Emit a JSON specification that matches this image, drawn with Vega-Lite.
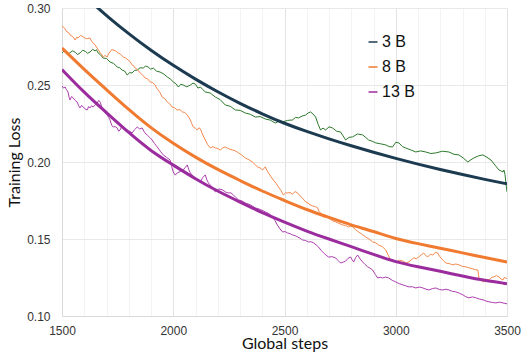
{
  "$schema": "https://vega.github.io/schema/vega-lite/v6.json",
  "autosize": "none",
  "width": 445,
  "height": 308,
  "padding": {"left": 62, "top": 8, "right": 16, "bottom": 39},
  "background": "white",
  "config": {"view": {"stroke": null}},
  "datasets": {
    "smooth": [
      {"series": "3 B", "step": 1650, "loss": 0.3015}, {"series": "3 B", "step": 1700, "loss": 0.2950}, {"series": "3 B", "step": 1800, "loss": 0.2832}, {"series": "3 B", "step": 1900, "loss": 0.2724}, {"series": "3 B", "step": 2000, "loss": 0.2626}, {"series": "3 B", "step": 2100, "loss": 0.2537}, {"series": "3 B", "step": 2200, "loss": 0.2455}, {"series": "3 B", "step": 2300, "loss": 0.2380}, {"series": "3 B", "step": 2400, "loss": 0.2312}, {"series": "3 B", "step": 2500, "loss": 0.2250}, {"series": "3 B", "step": 2600, "loss": 0.2198}, {"series": "3 B", "step": 2700, "loss": 0.2150}, {"series": "3 B", "step": 2800, "loss": 0.2105}, {"series": "3 B", "step": 2900, "loss": 0.2063}, {"series": "3 B", "step": 3000, "loss": 0.2023}, {"series": "3 B", "step": 3100, "loss": 0.1986}, {"series": "3 B", "step": 3200, "loss": 0.1951}, {"series": "3 B", "step": 3300, "loss": 0.1918}, {"series": "3 B", "step": 3400, "loss": 0.1887}, {"series": "3 B", "step": 3500, "loss": 0.1858},
      {"series": "8 B", "step": 1500, "loss": 0.274}, {"series": "8 B", "step": 1600, "loss": 0.260}, {"series": "8 B", "step": 1700, "loss": 0.247}, {"series": "8 B", "step": 1800, "loss": 0.234}, {"series": "8 B", "step": 1900, "loss": 0.222}, {"series": "8 B", "step": 2000, "loss": 0.212}, {"series": "8 B", "step": 2100, "loss": 0.203}, {"series": "8 B", "step": 2200, "loss": 0.195}, {"series": "8 B", "step": 2300, "loss": 0.188}, {"series": "8 B", "step": 2400, "loss": 0.181}, {"series": "8 B", "step": 2500, "loss": 0.175}, {"series": "8 B", "step": 2600, "loss": 0.169}, {"series": "8 B", "step": 2700, "loss": 0.164}, {"series": "8 B", "step": 2800, "loss": 0.159}, {"series": "8 B", "step": 2900, "loss": 0.155}, {"series": "8 B", "step": 3000, "loss": 0.150}, {"series": "8 B", "step": 3100, "loss": 0.147}, {"series": "8 B", "step": 3200, "loss": 0.144}, {"series": "8 B", "step": 3300, "loss": 0.141}, {"series": "8 B", "step": 3400, "loss": 0.138}, {"series": "8 B", "step": 3500, "loss": 0.135},
      {"series": "13 B", "step": 1500, "loss": 0.260}, {"series": "13 B", "step": 1600, "loss": 0.245}, {"series": "13 B", "step": 1700, "loss": 0.232}, {"series": "13 B", "step": 1800, "loss": 0.219}, {"series": "13 B", "step": 1900, "loss": 0.207}, {"series": "13 B", "step": 2000, "loss": 0.198}, {"series": "13 B", "step": 2100, "loss": 0.189}, {"series": "13 B", "step": 2200, "loss": 0.181}, {"series": "13 B", "step": 2300, "loss": 0.174}, {"series": "13 B", "step": 2400, "loss": 0.167}, {"series": "13 B", "step": 2500, "loss": 0.161}, {"series": "13 B", "step": 2600, "loss": 0.155}, {"series": "13 B", "step": 2700, "loss": 0.150}, {"series": "13 B", "step": 2800, "loss": 0.145}, {"series": "13 B", "step": 2900, "loss": 0.140}, {"series": "13 B", "step": 3000, "loss": 0.135}, {"series": "13 B", "step": 3100, "loss": 0.132}, {"series": "13 B", "step": 3200, "loss": 0.129}, {"series": "13 B", "step": 3300, "loss": 0.126}, {"series": "13 B", "step": 3400, "loss": 0.123}, {"series": "13 B", "step": 3500, "loss": 0.121}
    ],
    "raw": [
      {"series": "3 B raw", "step": 1500, "loss": 0.2708}, {"series": "3 B raw", "step": 1510, "loss": 0.2722}, {"series": "3 B raw", "step": 1520, "loss": 0.2712}, {"series": "3 B raw", "step": 1528, "loss": 0.2700}, {"series": "3 B raw", "step": 1536, "loss": 0.2710}, {"series": "3 B raw", "step": 1548, "loss": 0.2722}, {"series": "3 B raw", "step": 1560, "loss": 0.2712}, {"series": "3 B raw", "step": 1570, "loss": 0.2698}, {"series": "3 B raw", "step": 1581, "loss": 0.2708}, {"series": "3 B raw", "step": 1593, "loss": 0.2726}, {"series": "3 B raw", "step": 1605, "loss": 0.2718}, {"series": "3 B raw", "step": 1615, "loss": 0.2706}, {"series": "3 B raw", "step": 1626, "loss": 0.2714}, {"series": "3 B raw", "step": 1638, "loss": 0.2732}, {"series": "3 B raw", "step": 1649, "loss": 0.2721}, {"series": "3 B raw", "step": 1655, "loss": 0.2730}, {"series": "3 B raw", "step": 1662, "loss": 0.2708}, {"series": "3 B raw", "step": 1673, "loss": 0.2696}, {"series": "3 B raw", "step": 1685, "loss": 0.2675}, {"series": "3 B raw", "step": 1700, "loss": 0.2672}, {"series": "3 B raw", "step": 1716, "loss": 0.2649}, {"series": "3 B raw", "step": 1732, "loss": 0.2640}, {"series": "3 B raw", "step": 1748, "loss": 0.2617}, {"series": "3 B raw", "step": 1759, "loss": 0.2612}, {"series": "3 B raw", "step": 1770, "loss": 0.2597}, {"series": "3 B raw", "step": 1782, "loss": 0.2590}, {"series": "3 B raw", "step": 1793, "loss": 0.2565}, {"series": "3 B raw", "step": 1804, "loss": 0.2580}, {"series": "3 B raw", "step": 1815, "loss": 0.2578}, {"series": "3 B raw", "step": 1826, "loss": 0.2595}, {"series": "3 B raw", "step": 1838, "loss": 0.2597}, {"series": "3 B raw", "step": 1851, "loss": 0.2612}, {"series": "3 B raw", "step": 1865, "loss": 0.2610}, {"series": "3 B raw", "step": 1876, "loss": 0.2623}, {"series": "3 B raw", "step": 1887, "loss": 0.2617}, {"series": "3 B raw", "step": 1898, "loss": 0.2603}, {"series": "3 B raw", "step": 1910, "loss": 0.2610}, {"series": "3 B raw", "step": 1925, "loss": 0.2590}, {"series": "3 B raw", "step": 1941, "loss": 0.2584}, {"series": "3 B raw", "step": 1957, "loss": 0.2572}, {"series": "3 B raw", "step": 1973, "loss": 0.2552}, {"series": "3 B raw", "step": 1986, "loss": 0.2540}, {"series": "3 B raw", "step": 2000, "loss": 0.2520}, {"series": "3 B raw", "step": 2012, "loss": 0.2508}, {"series": "3 B raw", "step": 2023, "loss": 0.2487}, {"series": "3 B raw", "step": 2034, "loss": 0.2505}, {"series": "3 B raw", "step": 2045, "loss": 0.2500}, {"series": "3 B raw", "step": 2061, "loss": 0.2488}, {"series": "3 B raw", "step": 2077, "loss": 0.2500}, {"series": "3 B raw", "step": 2089, "loss": 0.2512}, {"series": "3 B raw", "step": 2100, "loss": 0.2505}, {"series": "3 B raw", "step": 2111, "loss": 0.2480}, {"series": "3 B raw", "step": 2122, "loss": 0.2487}, {"series": "3 B raw", "step": 2133, "loss": 0.2470}, {"series": "3 B raw", "step": 2144, "loss": 0.2455}, {"series": "3 B raw", "step": 2166, "loss": 0.2448}, {"series": "3 B raw", "step": 2189, "loss": 0.2422}, {"series": "3 B raw", "step": 2211, "loss": 0.2405}, {"series": "3 B raw", "step": 2234, "loss": 0.2370}, {"series": "3 B raw", "step": 2256, "loss": 0.2362}, {"series": "3 B raw", "step": 2279, "loss": 0.2338}, {"series": "3 B raw", "step": 2301, "loss": 0.2335}, {"series": "3 B raw", "step": 2324, "loss": 0.2318}, {"series": "3 B raw", "step": 2346, "loss": 0.2310}, {"series": "3 B raw", "step": 2369, "loss": 0.2292}, {"series": "3 B raw", "step": 2391, "loss": 0.2295}, {"series": "3 B raw", "step": 2414, "loss": 0.2279}, {"series": "3 B raw", "step": 2436, "loss": 0.2272}, {"series": "3 B raw", "step": 2459, "loss": 0.2253}, {"series": "3 B raw", "step": 2475, "loss": 0.2265}, {"series": "3 B raw", "step": 2491, "loss": 0.2260}, {"series": "3 B raw", "step": 2513, "loss": 0.2270}, {"series": "3 B raw", "step": 2536, "loss": 0.2273}, {"series": "3 B raw", "step": 2550, "loss": 0.2290}, {"series": "3 B raw", "step": 2563, "loss": 0.2286}, {"series": "3 B raw", "step": 2579, "loss": 0.2298}, {"series": "3 B raw", "step": 2595, "loss": 0.2305}, {"series": "3 B raw", "step": 2606, "loss": 0.2318}, {"series": "3 B raw", "step": 2617, "loss": 0.2325}, {"series": "3 B raw", "step": 2628, "loss": 0.2312}, {"series": "3 B raw", "step": 2640, "loss": 0.2292}, {"series": "3 B raw", "step": 2651, "loss": 0.2245}, {"series": "3 B raw", "step": 2662, "loss": 0.2208}, {"series": "3 B raw", "step": 2673, "loss": 0.2220}, {"series": "3 B raw", "step": 2685, "loss": 0.2208}, {"series": "3 B raw", "step": 2700, "loss": 0.2228}, {"series": "3 B raw", "step": 2716, "loss": 0.2221}, {"series": "3 B raw", "step": 2734, "loss": 0.2200}, {"series": "3 B raw", "step": 2752, "loss": 0.2195}, {"series": "3 B raw", "step": 2763, "loss": 0.2170}, {"series": "3 B raw", "step": 2775, "loss": 0.2143}, {"series": "3 B raw", "step": 2790, "loss": 0.2160}, {"series": "3 B raw", "step": 2806, "loss": 0.2163}, {"series": "3 B raw", "step": 2828, "loss": 0.2182}, {"series": "3 B raw", "step": 2851, "loss": 0.2176}, {"series": "3 B raw", "step": 2865, "loss": 0.2160}, {"series": "3 B raw", "step": 2878, "loss": 0.2143}, {"series": "3 B raw", "step": 2894, "loss": 0.2135}, {"series": "3 B raw", "step": 2910, "loss": 0.2124}, {"series": "3 B raw", "step": 2932, "loss": 0.2118}, {"series": "3 B raw", "step": 2955, "loss": 0.2111}, {"series": "3 B raw", "step": 2970, "loss": 0.2100}, {"series": "3 B raw", "step": 2986, "loss": 0.2098}, {"series": "3 B raw", "step": 3000, "loss": 0.2128}, {"series": "3 B raw", "step": 3014, "loss": 0.2124}, {"series": "3 B raw", "step": 3030, "loss": 0.2100}, {"series": "3 B raw", "step": 3045, "loss": 0.2091}, {"series": "3 B raw", "step": 3068, "loss": 0.2078}, {"series": "3 B raw", "step": 3090, "loss": 0.2065}, {"series": "3 B raw", "step": 3112, "loss": 0.2072}, {"series": "3 B raw", "step": 3135, "loss": 0.2065}, {"series": "3 B raw", "step": 3158, "loss": 0.2055}, {"series": "3 B raw", "step": 3180, "loss": 0.2059}, {"series": "3 B raw", "step": 3210, "loss": 0.2070}, {"series": "3 B raw", "step": 3239, "loss": 0.2065}, {"series": "3 B raw", "step": 3262, "loss": 0.2050}, {"series": "3 B raw", "step": 3284, "loss": 0.2046}, {"series": "3 B raw", "step": 3304, "loss": 0.2025}, {"series": "3 B raw", "step": 3324, "loss": 0.2000}, {"series": "3 B raw", "step": 3338, "loss": 0.2015}, {"series": "3 B raw", "step": 3351, "loss": 0.2026}, {"series": "3 B raw", "step": 3372, "loss": 0.2040}, {"series": "3 B raw", "step": 3392, "loss": 0.2046}, {"series": "3 B raw", "step": 3410, "loss": 0.2030}, {"series": "3 B raw", "step": 3428, "loss": 0.2013}, {"series": "3 B raw", "step": 3446, "loss": 0.1980}, {"series": "3 B raw", "step": 3464, "loss": 0.1948}, {"series": "3 B raw", "step": 3473, "loss": 0.1942}, {"series": "3 B raw", "step": 3482, "loss": 0.1935}, {"series": "3 B raw", "step": 3486, "loss": 0.1948}, {"series": "3 B raw", "step": 3491, "loss": 0.1920}, {"series": "3 B raw", "step": 3495, "loss": 0.1864}, {"series": "3 B raw", "step": 3500, "loss": 0.1806},
      {"series": "8 B raw", "step": 1500, "loss": 0.2883}, {"series": "8 B raw", "step": 1511, "loss": 0.2870}, {"series": "8 B raw", "step": 1523, "loss": 0.2844}, {"series": "8 B raw", "step": 1530, "loss": 0.2840}, {"series": "8 B raw", "step": 1536, "loss": 0.2825}, {"series": "8 B raw", "step": 1548, "loss": 0.2815}, {"series": "8 B raw", "step": 1559, "loss": 0.2792}, {"series": "8 B raw", "step": 1566, "loss": 0.2810}, {"series": "8 B raw", "step": 1572, "loss": 0.2805}, {"series": "8 B raw", "step": 1584, "loss": 0.2822}, {"series": "8 B raw", "step": 1595, "loss": 0.2812}, {"series": "8 B raw", "step": 1610, "loss": 0.2800}, {"series": "8 B raw", "step": 1626, "loss": 0.2805}, {"series": "8 B raw", "step": 1633, "loss": 0.2785}, {"series": "8 B raw", "step": 1640, "loss": 0.2773}, {"series": "8 B raw", "step": 1649, "loss": 0.2760}, {"series": "8 B raw", "step": 1658, "loss": 0.2740}, {"series": "8 B raw", "step": 1665, "loss": 0.2725}, {"series": "8 B raw", "step": 1671, "loss": 0.2708}, {"series": "8 B raw", "step": 1678, "loss": 0.2700}, {"series": "8 B raw", "step": 1685, "loss": 0.2682}, {"series": "8 B raw", "step": 1694, "loss": 0.2692}, {"series": "8 B raw", "step": 1703, "loss": 0.2682}, {"series": "8 B raw", "step": 1710, "loss": 0.2705}, {"series": "8 B raw", "step": 1716, "loss": 0.2714}, {"series": "8 B raw", "step": 1723, "loss": 0.2730}, {"series": "8 B raw", "step": 1730, "loss": 0.2727}, {"series": "8 B raw", "step": 1741, "loss": 0.2722}, {"series": "8 B raw", "step": 1752, "loss": 0.2708}, {"series": "8 B raw", "step": 1763, "loss": 0.2700}, {"series": "8 B raw", "step": 1775, "loss": 0.2682}, {"series": "8 B raw", "step": 1786, "loss": 0.2676}, {"series": "8 B raw", "step": 1797, "loss": 0.2662}, {"series": "8 B raw", "step": 1806, "loss": 0.2652}, {"series": "8 B raw", "step": 1815, "loss": 0.2630}, {"series": "8 B raw", "step": 1822, "loss": 0.2625}, {"series": "8 B raw", "step": 1829, "loss": 0.2610}, {"series": "8 B raw", "step": 1840, "loss": 0.2600}, {"series": "8 B raw", "step": 1851, "loss": 0.2578}, {"series": "8 B raw", "step": 1862, "loss": 0.2565}, {"series": "8 B raw", "step": 1874, "loss": 0.2545}, {"series": "8 B raw", "step": 1885, "loss": 0.2540}, {"series": "8 B raw", "step": 1896, "loss": 0.2520}, {"series": "8 B raw", "step": 1908, "loss": 0.2515}, {"series": "8 B raw", "step": 1919, "loss": 0.2500}, {"series": "8 B raw", "step": 1925, "loss": 0.2480}, {"series": "8 B raw", "step": 1932, "loss": 0.2468}, {"series": "8 B raw", "step": 1941, "loss": 0.2450}, {"series": "8 B raw", "step": 1950, "loss": 0.2422}, {"series": "8 B raw", "step": 1962, "loss": 0.2412}, {"series": "8 B raw", "step": 1973, "loss": 0.2390}, {"series": "8 B raw", "step": 1984, "loss": 0.2378}, {"series": "8 B raw", "step": 1995, "loss": 0.2357}, {"series": "8 B raw", "step": 2006, "loss": 0.2352}, {"series": "8 B raw", "step": 2018, "loss": 0.2338}, {"series": "8 B raw", "step": 2030, "loss": 0.2340}, {"series": "8 B raw", "step": 2041, "loss": 0.2325}, {"series": "8 B raw", "step": 2052, "loss": 0.2322}, {"series": "8 B raw", "step": 2063, "loss": 0.2305}, {"series": "8 B raw", "step": 2070, "loss": 0.2290}, {"series": "8 B raw", "step": 2077, "loss": 0.2273}, {"series": "8 B raw", "step": 2083, "loss": 0.2250}, {"series": "8 B raw", "step": 2090, "loss": 0.2227}, {"series": "8 B raw", "step": 2099, "loss": 0.2220}, {"series": "8 B raw", "step": 2108, "loss": 0.2208}, {"series": "8 B raw", "step": 2115, "loss": 0.2222}, {"series": "8 B raw", "step": 2122, "loss": 0.2215}, {"series": "8 B raw", "step": 2133, "loss": 0.2175}, {"series": "8 B raw", "step": 2144, "loss": 0.2143}, {"series": "8 B raw", "step": 2155, "loss": 0.2112}, {"series": "8 B raw", "step": 2167, "loss": 0.2091}, {"series": "8 B raw", "step": 2178, "loss": 0.2100}, {"series": "8 B raw", "step": 2189, "loss": 0.2091}, {"series": "8 B raw", "step": 2200, "loss": 0.2088}, {"series": "8 B raw", "step": 2212, "loss": 0.2078}, {"series": "8 B raw", "step": 2223, "loss": 0.2092}, {"series": "8 B raw", "step": 2234, "loss": 0.2098}, {"series": "8 B raw", "step": 2250, "loss": 0.2085}, {"series": "8 B raw", "step": 2266, "loss": 0.2078}, {"series": "8 B raw", "step": 2280, "loss": 0.2072}, {"series": "8 B raw", "step": 2293, "loss": 0.2059}, {"series": "8 B raw", "step": 2308, "loss": 0.2045}, {"series": "8 B raw", "step": 2324, "loss": 0.2026}, {"series": "8 B raw", "step": 2340, "loss": 0.2015}, {"series": "8 B raw", "step": 2356, "loss": 0.2000}, {"series": "8 B raw", "step": 2367, "loss": 0.1985}, {"series": "8 B raw", "step": 2378, "loss": 0.1968}, {"series": "8 B raw", "step": 2390, "loss": 0.1962}, {"series": "8 B raw", "step": 2401, "loss": 0.1948}, {"series": "8 B raw", "step": 2408, "loss": 0.1960}, {"series": "8 B raw", "step": 2414, "loss": 0.1968}, {"series": "8 B raw", "step": 2421, "loss": 0.1945}, {"series": "8 B raw", "step": 2428, "loss": 0.1929}, {"series": "8 B raw", "step": 2439, "loss": 0.1905}, {"series": "8 B raw", "step": 2450, "loss": 0.1883}, {"series": "8 B raw", "step": 2462, "loss": 0.1862}, {"series": "8 B raw", "step": 2473, "loss": 0.1838}, {"series": "8 B raw", "step": 2484, "loss": 0.1815}, {"series": "8 B raw", "step": 2495, "loss": 0.1786}, {"series": "8 B raw", "step": 2505, "loss": 0.1800}, {"series": "8 B raw", "step": 2514, "loss": 0.1799}, {"series": "8 B raw", "step": 2525, "loss": 0.1802}, {"series": "8 B raw", "step": 2536, "loss": 0.1792}, {"series": "8 B raw", "step": 2548, "loss": 0.1808}, {"series": "8 B raw", "step": 2559, "loss": 0.1799}, {"series": "8 B raw", "step": 2570, "loss": 0.1780}, {"series": "8 B raw", "step": 2581, "loss": 0.1766}, {"series": "8 B raw", "step": 2592, "loss": 0.1745}, {"series": "8 B raw", "step": 2604, "loss": 0.1734}, {"series": "8 B raw", "step": 2615, "loss": 0.1722}, {"series": "8 B raw", "step": 2626, "loss": 0.1715}, {"series": "8 B raw", "step": 2638, "loss": 0.1710}, {"series": "8 B raw", "step": 2649, "loss": 0.1702}, {"series": "8 B raw", "step": 2655, "loss": 0.1680}, {"series": "8 B raw", "step": 2662, "loss": 0.1669}, {"series": "8 B raw", "step": 2669, "loss": 0.1650}, {"series": "8 B raw", "step": 2676, "loss": 0.1643}, {"series": "8 B raw", "step": 2687, "loss": 0.1645}, {"series": "8 B raw", "step": 2698, "loss": 0.1637}, {"series": "8 B raw", "step": 2714, "loss": 0.1620}, {"series": "8 B raw", "step": 2730, "loss": 0.1611}, {"series": "8 B raw", "step": 2745, "loss": 0.1602}, {"series": "8 B raw", "step": 2761, "loss": 0.1591}, {"series": "8 B raw", "step": 2775, "loss": 0.1588}, {"series": "8 B raw", "step": 2788, "loss": 0.1578}, {"series": "8 B raw", "step": 2797, "loss": 0.1583}, {"series": "8 B raw", "step": 2806, "loss": 0.1578}, {"series": "8 B raw", "step": 2820, "loss": 0.1560}, {"series": "8 B raw", "step": 2833, "loss": 0.1546}, {"series": "8 B raw", "step": 2849, "loss": 0.1530}, {"series": "8 B raw", "step": 2865, "loss": 0.1513}, {"series": "8 B raw", "step": 2880, "loss": 0.1500}, {"series": "8 B raw", "step": 2896, "loss": 0.1481}, {"series": "8 B raw", "step": 2910, "loss": 0.1475}, {"series": "8 B raw", "step": 2923, "loss": 0.1461}, {"series": "8 B raw", "step": 2940, "loss": 0.1450}, {"series": "8 B raw", "step": 2955, "loss": 0.1429}, {"series": "8 B raw", "step": 2966, "loss": 0.1395}, {"series": "8 B raw", "step": 2977, "loss": 0.1364}, {"series": "8 B raw", "step": 2988, "loss": 0.1360}, {"series": "8 B raw", "step": 3000, "loss": 0.1351}, {"series": "8 B raw", "step": 3016, "loss": 0.1362}, {"series": "8 B raw", "step": 3032, "loss": 0.1357}, {"series": "8 B raw", "step": 3045, "loss": 0.1345}, {"series": "8 B raw", "step": 3059, "loss": 0.1351}, {"series": "8 B raw", "step": 3070, "loss": 0.1365}, {"series": "8 B raw", "step": 3081, "loss": 0.1377}, {"series": "8 B raw", "step": 3092, "loss": 0.1372}, {"series": "8 B raw", "step": 3104, "loss": 0.1384}, {"series": "8 B raw", "step": 3115, "loss": 0.1398}, {"series": "8 B raw", "step": 3126, "loss": 0.1409}, {"series": "8 B raw", "step": 3135, "loss": 0.1392}, {"series": "8 B raw", "step": 3144, "loss": 0.1384}, {"series": "8 B raw", "step": 3155, "loss": 0.1400}, {"series": "8 B raw", "step": 3167, "loss": 0.1397}, {"series": "8 B raw", "step": 3178, "loss": 0.1412}, {"series": "8 B raw", "step": 3189, "loss": 0.1409}, {"series": "8 B raw", "step": 3196, "loss": 0.1390}, {"series": "8 B raw", "step": 3203, "loss": 0.1377}, {"series": "8 B raw", "step": 3214, "loss": 0.1360}, {"series": "8 B raw", "step": 3225, "loss": 0.1344}, {"series": "8 B raw", "step": 3241, "loss": 0.1340}, {"series": "8 B raw", "step": 3257, "loss": 0.1332}, {"series": "8 B raw", "step": 3270, "loss": 0.1338}, {"series": "8 B raw", "step": 3284, "loss": 0.1332}, {"series": "8 B raw", "step": 3300, "loss": 0.1322}, {"series": "8 B raw", "step": 3315, "loss": 0.1319}, {"series": "8 B raw", "step": 3331, "loss": 0.1312}, {"series": "8 B raw", "step": 3347, "loss": 0.1306}, {"series": "8 B raw", "step": 3358, "loss": 0.1300}, {"series": "8 B raw", "step": 3369, "loss": 0.1299}, {"series": "8 B raw", "step": 3374, "loss": 0.1247}, {"series": "8 B raw", "step": 3385, "loss": 0.1230}, {"series": "8 B raw", "step": 3396, "loss": 0.1221}, {"series": "8 B raw", "step": 3408, "loss": 0.1238}, {"series": "8 B raw", "step": 3419, "loss": 0.1234}, {"series": "8 B raw", "step": 3430, "loss": 0.1250}, {"series": "8 B raw", "step": 3441, "loss": 0.1254}, {"series": "8 B raw", "step": 3452, "loss": 0.1262}, {"series": "8 B raw", "step": 3464, "loss": 0.1254}, {"series": "8 B raw", "step": 3473, "loss": 0.1240}, {"series": "8 B raw", "step": 3482, "loss": 0.1234}, {"series": "8 B raw", "step": 3488, "loss": 0.1250}, {"series": "8 B raw", "step": 3495, "loss": 0.1247}, {"series": "8 B raw", "step": 3500, "loss": 0.1241},
      {"series": "13 B raw", "step": 1500, "loss": 0.2494}, {"series": "13 B raw", "step": 1507, "loss": 0.2480}, {"series": "13 B raw", "step": 1514, "loss": 0.2487}, {"series": "13 B raw", "step": 1520, "loss": 0.2470}, {"series": "13 B raw", "step": 1527, "loss": 0.2455}, {"series": "13 B raw", "step": 1532, "loss": 0.2420}, {"series": "13 B raw", "step": 1536, "loss": 0.2403}, {"series": "13 B raw", "step": 1543, "loss": 0.2425}, {"series": "13 B raw", "step": 1550, "loss": 0.2416}, {"series": "13 B raw", "step": 1559, "loss": 0.2400}, {"series": "13 B raw", "step": 1568, "loss": 0.2390}, {"series": "13 B raw", "step": 1575, "loss": 0.2365}, {"series": "13 B raw", "step": 1581, "loss": 0.2351}, {"series": "13 B raw", "step": 1588, "loss": 0.2368}, {"series": "13 B raw", "step": 1595, "loss": 0.2357}, {"series": "13 B raw", "step": 1604, "loss": 0.2345}, {"series": "13 B raw", "step": 1613, "loss": 0.2338}, {"series": "13 B raw", "step": 1620, "loss": 0.2360}, {"series": "13 B raw", "step": 1626, "loss": 0.2351}, {"series": "13 B raw", "step": 1633, "loss": 0.2365}, {"series": "13 B raw", "step": 1640, "loss": 0.2357}, {"series": "13 B raw", "step": 1649, "loss": 0.2370}, {"series": "13 B raw", "step": 1658, "loss": 0.2383}, {"series": "13 B raw", "step": 1665, "loss": 0.2400}, {"series": "13 B raw", "step": 1671, "loss": 0.2390}, {"series": "13 B raw", "step": 1678, "loss": 0.2360}, {"series": "13 B raw", "step": 1685, "loss": 0.2338}, {"series": "13 B raw", "step": 1694, "loss": 0.2320}, {"series": "13 B raw", "step": 1703, "loss": 0.2305}, {"series": "13 B raw", "step": 1710, "loss": 0.2290}, {"series": "13 B raw", "step": 1716, "loss": 0.2273}, {"series": "13 B raw", "step": 1723, "loss": 0.2240}, {"series": "13 B raw", "step": 1730, "loss": 0.2227}, {"series": "13 B raw", "step": 1739, "loss": 0.2230}, {"series": "13 B raw", "step": 1748, "loss": 0.2221}, {"series": "13 B raw", "step": 1755, "loss": 0.2200}, {"series": "13 B raw", "step": 1761, "loss": 0.2208}, {"series": "13 B raw", "step": 1768, "loss": 0.2230}, {"series": "13 B raw", "step": 1775, "loss": 0.2221}, {"series": "13 B raw", "step": 1784, "loss": 0.2205}, {"series": "13 B raw", "step": 1793, "loss": 0.2195}, {"series": "13 B raw", "step": 1804, "loss": 0.2200}, {"series": "13 B raw", "step": 1815, "loss": 0.2188}, {"series": "13 B raw", "step": 1826, "loss": 0.2210}, {"series": "13 B raw", "step": 1838, "loss": 0.2227}, {"series": "13 B raw", "step": 1849, "loss": 0.2215}, {"series": "13 B raw", "step": 1860, "loss": 0.2221}, {"series": "13 B raw", "step": 1872, "loss": 0.2190}, {"series": "13 B raw", "step": 1883, "loss": 0.2175}, {"series": "13 B raw", "step": 1894, "loss": 0.2160}, {"series": "13 B raw", "step": 1905, "loss": 0.2143}, {"series": "13 B raw", "step": 1916, "loss": 0.2120}, {"series": "13 B raw", "step": 1928, "loss": 0.2098}, {"series": "13 B raw", "step": 1942, "loss": 0.2070}, {"series": "13 B raw", "step": 1955, "loss": 0.2046}, {"series": "13 B raw", "step": 1970, "loss": 0.2030}, {"series": "13 B raw", "step": 1986, "loss": 0.2013}, {"series": "13 B raw", "step": 1993, "loss": 0.1970}, {"series": "13 B raw", "step": 2000, "loss": 0.1935}, {"series": "13 B raw", "step": 2009, "loss": 0.1915}, {"series": "13 B raw", "step": 2018, "loss": 0.1929}, {"series": "13 B raw", "step": 2031, "loss": 0.1938}, {"series": "13 B raw", "step": 2045, "loss": 0.1948}, {"series": "13 B raw", "step": 2054, "loss": 0.1965}, {"series": "13 B raw", "step": 2063, "loss": 0.1981}, {"series": "13 B raw", "step": 2070, "loss": 0.1950}, {"series": "13 B raw", "step": 2077, "loss": 0.1929}, {"series": "13 B raw", "step": 2088, "loss": 0.1910}, {"series": "13 B raw", "step": 2099, "loss": 0.1896}, {"series": "13 B raw", "step": 2110, "loss": 0.1880}, {"series": "13 B raw", "step": 2122, "loss": 0.1871}, {"series": "13 B raw", "step": 2133, "loss": 0.1900}, {"series": "13 B raw", "step": 2144, "loss": 0.1916}, {"series": "13 B raw", "step": 2151, "loss": 0.1885}, {"series": "13 B raw", "step": 2158, "loss": 0.1864}, {"series": "13 B raw", "step": 2173, "loss": 0.1840}, {"series": "13 B raw", "step": 2189, "loss": 0.1806}, {"series": "13 B raw", "step": 2205, "loss": 0.1825}, {"series": "13 B raw", "step": 2221, "loss": 0.1819}, {"series": "13 B raw", "step": 2235, "loss": 0.1805}, {"series": "13 B raw", "step": 2248, "loss": 0.1799}, {"series": "13 B raw", "step": 2259, "loss": 0.1800}, {"series": "13 B raw", "step": 2270, "loss": 0.1786}, {"series": "13 B raw", "step": 2281, "loss": 0.1770}, {"series": "13 B raw", "step": 2293, "loss": 0.1754}, {"series": "13 B raw", "step": 2308, "loss": 0.1748}, {"series": "13 B raw", "step": 2324, "loss": 0.1734}, {"series": "13 B raw", "step": 2346, "loss": 0.1722}, {"series": "13 B raw", "step": 2369, "loss": 0.1702}, {"series": "13 B raw", "step": 2391, "loss": 0.1692}, {"series": "13 B raw", "step": 2414, "loss": 0.1676}, {"series": "13 B raw", "step": 2430, "loss": 0.1665}, {"series": "13 B raw", "step": 2446, "loss": 0.1643}, {"series": "13 B raw", "step": 2457, "loss": 0.1620}, {"series": "13 B raw", "step": 2468, "loss": 0.1591}, {"series": "13 B raw", "step": 2480, "loss": 0.1565}, {"series": "13 B raw", "step": 2491, "loss": 0.1546}, {"series": "13 B raw", "step": 2503, "loss": 0.1548}, {"series": "13 B raw", "step": 2514, "loss": 0.1539}, {"series": "13 B raw", "step": 2525, "loss": 0.1535}, {"series": "13 B raw", "step": 2536, "loss": 0.1526}, {"series": "13 B raw", "step": 2548, "loss": 0.1522}, {"series": "13 B raw", "step": 2559, "loss": 0.1513}, {"series": "13 B raw", "step": 2570, "loss": 0.1505}, {"series": "13 B raw", "step": 2581, "loss": 0.1494}, {"series": "13 B raw", "step": 2595, "loss": 0.1490}, {"series": "13 B raw", "step": 2608, "loss": 0.1481}, {"series": "13 B raw", "step": 2620, "loss": 0.1482}, {"series": "13 B raw", "step": 2631, "loss": 0.1474}, {"series": "13 B raw", "step": 2642, "loss": 0.1462}, {"series": "13 B raw", "step": 2653, "loss": 0.1448}, {"series": "13 B raw", "step": 2665, "loss": 0.1425}, {"series": "13 B raw", "step": 2676, "loss": 0.1409}, {"series": "13 B raw", "step": 2687, "loss": 0.1395}, {"series": "13 B raw", "step": 2698, "loss": 0.1383}, {"series": "13 B raw", "step": 2714, "loss": 0.1385}, {"series": "13 B raw", "step": 2730, "loss": 0.1377}, {"series": "13 B raw", "step": 2741, "loss": 0.1360}, {"series": "13 B raw", "step": 2752, "loss": 0.1344}, {"series": "13 B raw", "step": 2764, "loss": 0.1350}, {"series": "13 B raw", "step": 2775, "loss": 0.1357}, {"series": "13 B raw", "step": 2786, "loss": 0.1375}, {"series": "13 B raw", "step": 2797, "loss": 0.1383}, {"series": "13 B raw", "step": 2804, "loss": 0.1365}, {"series": "13 B raw", "step": 2811, "loss": 0.1351}, {"series": "13 B raw", "step": 2820, "loss": 0.1380}, {"series": "13 B raw", "step": 2829, "loss": 0.1396}, {"series": "13 B raw", "step": 2840, "loss": 0.1370}, {"series": "13 B raw", "step": 2851, "loss": 0.1351}, {"series": "13 B raw", "step": 2862, "loss": 0.1335}, {"series": "13 B raw", "step": 2874, "loss": 0.1319}, {"series": "13 B raw", "step": 2885, "loss": 0.1310}, {"series": "13 B raw", "step": 2896, "loss": 0.1299}, {"series": "13 B raw", "step": 2908, "loss": 0.1270}, {"series": "13 B raw", "step": 2919, "loss": 0.1247}, {"series": "13 B raw", "step": 2930, "loss": 0.1252}, {"series": "13 B raw", "step": 2941, "loss": 0.1247}, {"series": "13 B raw", "step": 2955, "loss": 0.1253}, {"series": "13 B raw", "step": 2968, "loss": 0.1247}, {"series": "13 B raw", "step": 2984, "loss": 0.1232}, {"series": "13 B raw", "step": 3000, "loss": 0.1221}, {"series": "13 B raw", "step": 3016, "loss": 0.1210}, {"series": "13 B raw", "step": 3032, "loss": 0.1202}, {"series": "13 B raw", "step": 3045, "loss": 0.1196}, {"series": "13 B raw", "step": 3059, "loss": 0.1189}, {"series": "13 B raw", "step": 3075, "loss": 0.1190}, {"series": "13 B raw", "step": 3090, "loss": 0.1182}, {"series": "13 B raw", "step": 3106, "loss": 0.1188}, {"series": "13 B raw", "step": 3122, "loss": 0.1182}, {"series": "13 B raw", "step": 3135, "loss": 0.1175}, {"series": "13 B raw", "step": 3149, "loss": 0.1169}, {"series": "13 B raw", "step": 3165, "loss": 0.1178}, {"series": "13 B raw", "step": 3180, "loss": 0.1182}, {"series": "13 B raw", "step": 3196, "loss": 0.1172}, {"series": "13 B raw", "step": 3212, "loss": 0.1169}, {"series": "13 B raw", "step": 3225, "loss": 0.1174}, {"series": "13 B raw", "step": 3239, "loss": 0.1169}, {"series": "13 B raw", "step": 3255, "loss": 0.1160}, {"series": "13 B raw", "step": 3270, "loss": 0.1157}, {"series": "13 B raw", "step": 3286, "loss": 0.1148}, {"series": "13 B raw", "step": 3302, "loss": 0.1137}, {"series": "13 B raw", "step": 3315, "loss": 0.1125}, {"series": "13 B raw", "step": 3329, "loss": 0.1118}, {"series": "13 B raw", "step": 3345, "loss": 0.1124}, {"series": "13 B raw", "step": 3360, "loss": 0.1118}, {"series": "13 B raw", "step": 3376, "loss": 0.1110}, {"series": "13 B raw", "step": 3392, "loss": 0.1105}, {"series": "13 B raw", "step": 3405, "loss": 0.1098}, {"series": "13 B raw", "step": 3419, "loss": 0.1092}, {"series": "13 B raw", "step": 3435, "loss": 0.1088}, {"series": "13 B raw", "step": 3450, "loss": 0.1085}, {"series": "13 B raw", "step": 3466, "loss": 0.1090}, {"series": "13 B raw", "step": 3482, "loss": 0.1085}, {"series": "13 B raw", "step": 3491, "loss": 0.1082}, {"series": "13 B raw", "step": 3500, "loss": 0.1079}
    ]
  },
  "encoding": {
    "x": {
      "field": "step", "type": "quantitative",
      "scale": {"domain": [1500, 3500], "nice": false, "zero": false},
      "axis": {
        "values": [1500, 1600, 1700, 1800, 1900, 2000, 2100, 2200, 2300, 2400, 2500, 2600, 2700, 2800, 2900, 3000, 3100, 3200, 3300, 3400, 3500],
        "format": "d",
        "labelExpr": "datum.value % 500 === 0 ? datum.label : ''",
        "labelFlush": false,
        "title": "Global steps",
        "titleFont": "Lato", "titleFontSize": 16, "titleFontWeight": "normal", "titleColor": "#111111",
        "titleY": 32, "titleBaseline": "alphabetic",
        "labelFont": "Liberation Sans", "labelFontSize": 12, "labelColor": "#333333", "labelPadding": 9,
        "ticks": false,
        "domainColor": "#d9d9d9",
        "gridColor": {"condition": {"test": "datum.value % 500 === 0", "value": "#e3e3e3"}, "value": "#f3f3f3"},
        "labelOverlap": false
      }
    },
    "y": {
      "field": "loss", "type": "quantitative",
      "scale": {"domain": [0.1, 0.3], "nice": false, "zero": false},
      "axis": {
        "values": [0.1, 0.15, 0.2, 0.25, 0.3],
        "format": ".2f",
        "labelFlush": false,
        "title": "Training Loss",
        "titleFont": "Lato", "titleFontSize": 16, "titleFontWeight": "normal", "titleColor": "#111111",
        "titleX": -43, "titleBaseline": "alphabetic",
        "labelFont": "Liberation Sans", "labelFontSize": 12, "labelColor": "#333333", "labelPadding": 12,
        "ticks": false,
        "domainColor": "#d9d9d9",
        "gridColor": "#e8e8e8"
      }
    },
    "color": {
      "field": "series", "type": "nominal",
      "scale": {
        "domain": ["3 B", "8 B", "13 B", "3 B raw", "8 B raw", "13 B raw"],
        "range": ["#1c3b50", "#f07a30", "#9b2c9e", "#2b7a2b", "#f3894c", "#ad3eb1"]
      },
      "legend": {
        "values": ["3 B", "8 B", "13 B"],
        "title": null,
        "orient": "none",
        "legendX": 303,
        "legendY": 26,
        "padding": 0,
        "symbolType": "stroke",
        "symbolSize": 80,
        "symbolStrokeWidth": 1.5,
        "labelFont": "Liberation Sans",
        "labelFontSize": 16,
        "labelColor": "#111111",
        "labelOffset": 1,
        "rowPadding": 9
      }
    }
  },
  "layer": [
    {
      "data": {"name": "raw"},
      "mark": {"type": "line", "strokeWidth": 1, "clip": true}
    },
    {
      "data": {"name": "smooth"},
      "mark": {"type": "line", "strokeWidth": 3, "clip": true, "interpolate": "basis"}
    }
  ]
}
